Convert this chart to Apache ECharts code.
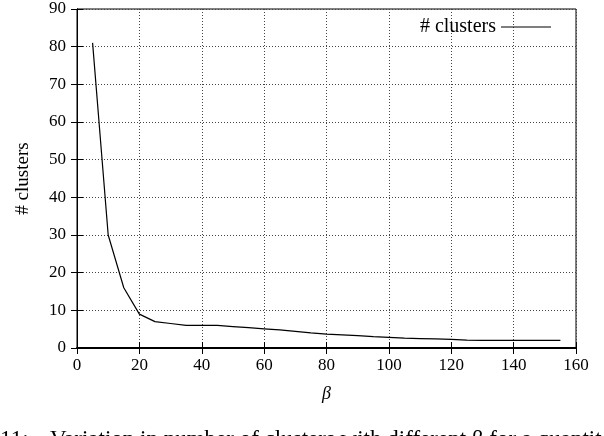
<!DOCTYPE html>
<html>
<head>
<meta charset="utf-8">
<script src="https://cdn.jsdelivr.net/npm/echarts@6/dist/echarts.min.js"></script>
<style>html,body{margin:0;padding:0;background:#fff}#c{width:604px;height:436px}</style>
</head>
<body>
<div id="c"></div>
<script>
var betaValues = [5, 10, 15, 20, 25, 30, 35, 40, 45, 50, 55, 60, 65, 70, 75, 80, 85, 90, 95, 100, 105, 110, 115, 120, 125, 130, 135, 140, 145, 150, 155];
var clusterCounts = [81, 30, 16, 9, 7, 6.5, 6, 6, 6, 5.7, 5.4, 5.1, 4.8, 4.4, 4.0, 3.7, 3.5, 3.3, 3.0, 2.8, 2.6, 2.5, 2.4, 2.3, 2.1, 2.0, 2.0, 2.0, 2.0, 2.0, 2.0];
var xTicks = [0, 20, 40, 60, 80, 100, 120, 140, 160];
var yTicks = [0, 10, 20, 30, 40, 50, 60, 70, 80, 90];
var seriesName = '# clusters';
var xName = 'β';
var yName = '# clusters';
var captionNumber = '11:';
var captionText = 'Variation in number of clusters with different β for a quantit';

var font = '"Liberation Serif", "DejaVu Serif", serif';
var data = betaValues.map(function (b, i) { return [b, clusterCounts[i]]; });

var chart = echarts.init(document.getElementById('c'), null, {renderer: 'canvas'});
var baseAxis = {
  axisLine: {show: true, lineStyle: {color: '#000', width: 1}},
  axisTick: {show: true, inside: true, length: 6, lineStyle: {color: '#000'}},
  splitLine: {show: false}
};
chart.setOption({
  animation: false,
  backgroundColor: '#fff',
  grid: {left: 77, top: 9, right: 28, bottom: 88, show: true, borderColor: '#000', borderWidth: 1},
  legend: {
    data: [{name: seriesName, icon: 'rect'}],
    right: 48, top: 12, align: 'right',
    itemWidth: 50, itemHeight: 1, itemGap: 10,
    textStyle: {fontFamily: font, fontSize: 20, color: '#000'}
  },
  xAxis: [
    Object.assign({}, baseAxis, {
      type: 'value', min: xTicks[0], max: xTicks[xTicks.length - 1], interval: 20,
      position: 'bottom',
      axisLine: {show: true, lineStyle: {color: '#000', width: 2}},
      axisLabel: {fontFamily: font, fontSize: 17, color: '#000', margin: 9},
      splitLine: {show: true, lineStyle: {color: '#444', type: [1, 2], width: 1}},
      name: xName, nameLocation: 'middle', nameGap: 37,
      nameTextStyle: {fontFamily: font, fontSize: 18, fontStyle: 'italic', color: '#000'}
    }),
    Object.assign({}, baseAxis, {
      type: 'value', min: 0, max: 160, interval: 20, position: 'top',
      axisLabel: {show: false}
    })
  ],
  yAxis: [
    Object.assign({}, baseAxis, {
      type: 'value', min: yTicks[0], max: yTicks[yTicks.length - 1], interval: 10,
      position: 'left',
      axisLabel: {fontFamily: font, fontSize: 17, color: '#000', margin: 11},
      splitLine: {show: true, lineStyle: {color: '#444', type: [1, 2], width: 1}},
      name: yName, nameLocation: 'middle', nameGap: 44, nameRotate: 90,
      nameTextStyle: {fontFamily: font, fontSize: 19, color: '#000'}
    }),
    Object.assign({}, baseAxis, {
      type: 'value', min: 0, max: 90, interval: 10, position: 'right',
      axisLabel: {show: false}
    })
  ],
  series: [{
    name: seriesName, type: 'line', data: data, symbol: 'none',
    lineStyle: {color: '#000', width: 1.2}, itemStyle: {color: '#000'}
  }],
  graphic: [{
    type: 'text', left: 0, top: 428,
    style: {text: captionNumber, font: '23px ' + font, fill: '#000'}
  }, {
    type: 'text', left: 50, top: 428,
    style: {text: captionText, font: '23px ' + font, fill: '#000'}
  }]
});
</script>
</body>
</html>
